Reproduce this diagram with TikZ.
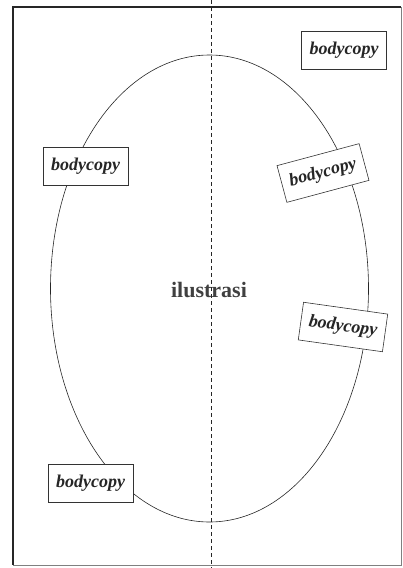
\documentclass[tikz,border=0pt]{standalone}
\usepackage{fontspec}
\setmainfont{Liberation Serif}
\begin{document}
\begin{tikzpicture}[x=1pt,y=-1pt,
  bc/.style={draw=black!80,line width=0.6pt,fill=white,minimum width=85pt,minimum height=38pt,inner sep=0pt,font=\fontsize{18}{20}\selectfont\bfseries\itshape,text=black!85},
  ]
\useasboundingbox (0,0) rectangle (403,568);
% frame
\draw[line width=1.6pt,black!85] (401,7) -- (13,7) -- (13,565);
\draw[line width=0.5pt,black!50] (401,7) -- (401,565) -- (13,565);
% ellipse
\draw[line width=0.6pt,black!85] (209.5,288.5) ellipse [x radius=159,y radius=233.5];
% dashed axis
\coordinate (t) at (211,0);
\coordinate (b) at (211,568);
\draw[line width=0.6pt,dashed,dash pattern=on 4pt off 3pt,black!85] (t) -- (b);
% labels
\node[font=\fontsize{22}{24}\selectfont\bfseries,text=black!75] (il) at (209,290) {ilustrasi};
\node[bc] (b1) at (344,50) {bodycopy};
\node[bc] (b2) at (85.5,166) {bodycopy};
\node[bc,rotate=15] (b3) at (323,173) {bodycopy};
\node[bc,rotate=-8] (b4) at (343,327) {bodycopy};
\node[bc] (b5) at (90.5,483.5) {bodycopy};
\end{tikzpicture}
\end{document}
